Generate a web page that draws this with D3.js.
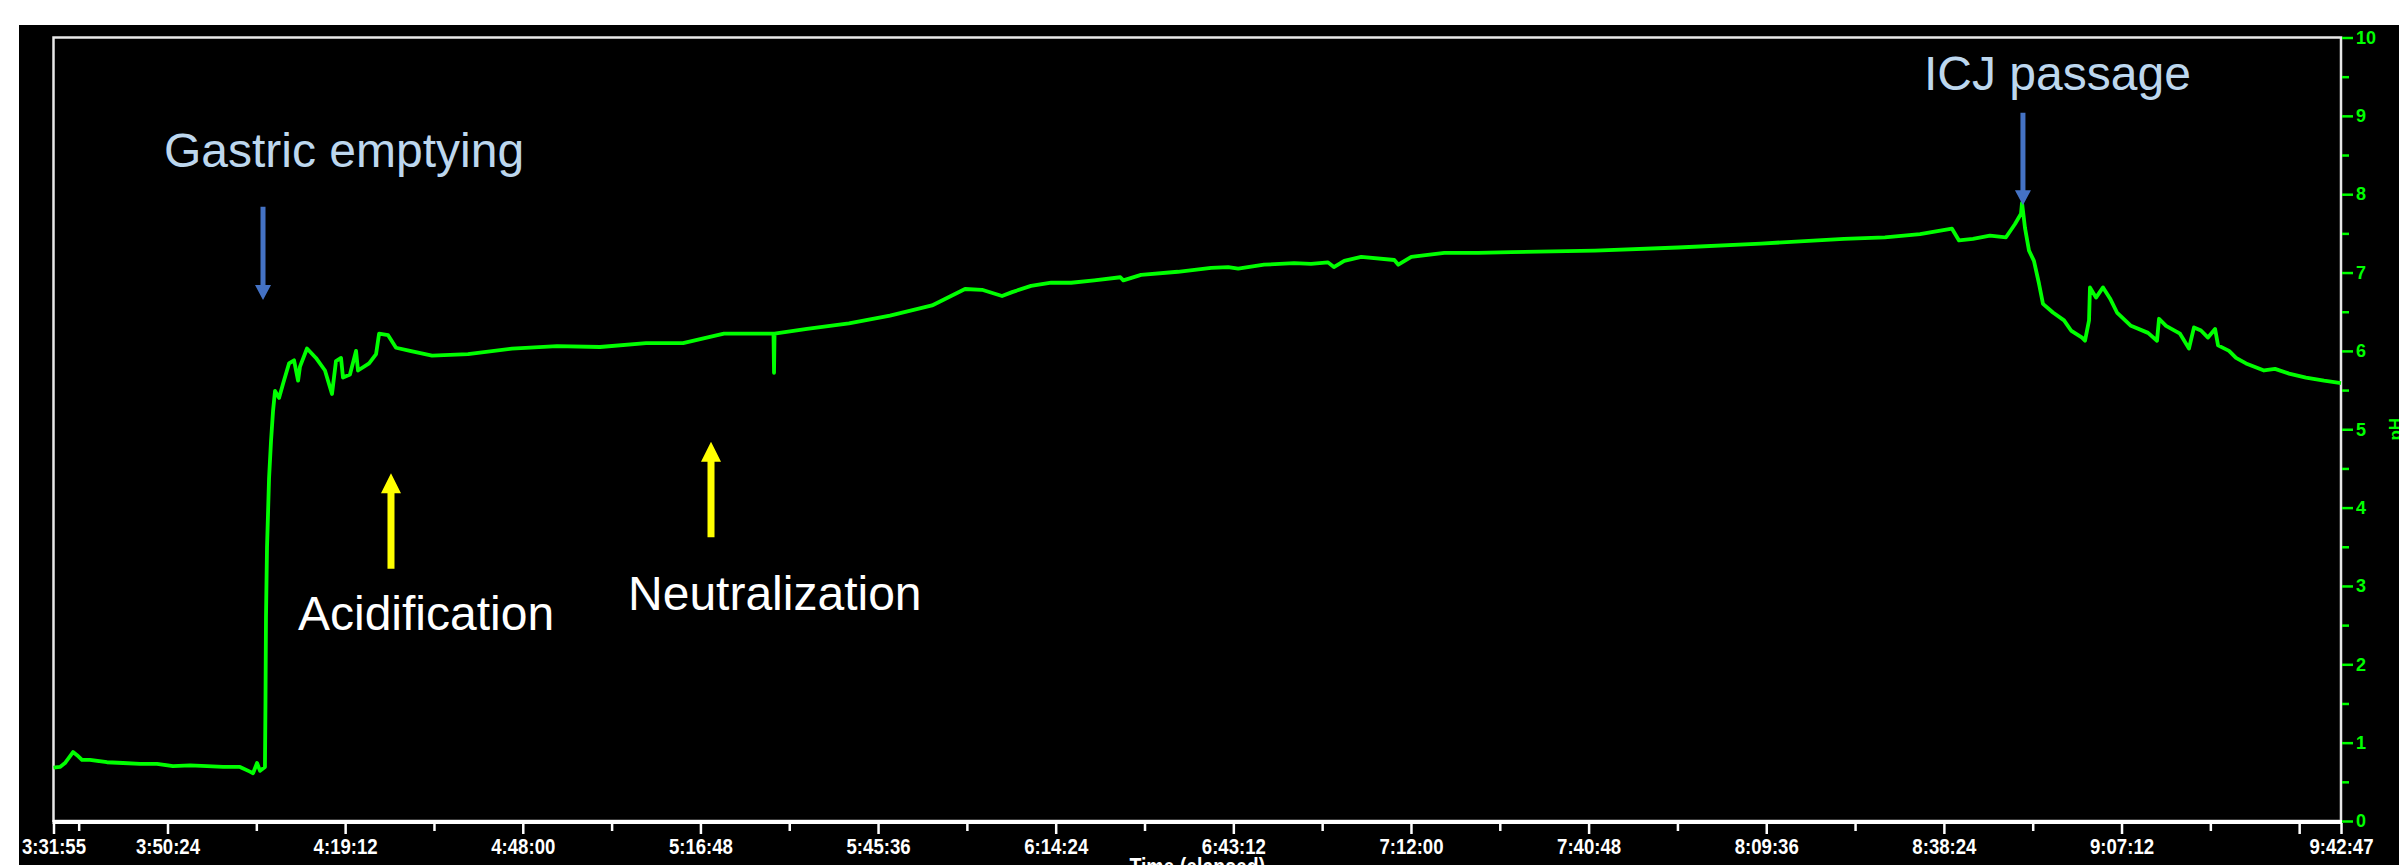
<!DOCTYPE html>
<html>
<head>
<meta charset="utf-8">
<script src="https://cdn.jsdelivr.net/npm/d3@7"></script>
<style>
  html, body { margin: 0; padding: 0; background: #ffffff; }
  svg { display: block; }
</style>
</head>
<body>
<svg id="chart" width="2399" height="865"></svg>
<script>
// ---------------- DATA ----------------
const times = ["3:31:55","3:32:58","3:33:47","3:35:05","3:35:44","3:36:32","3:37:50","3:40:35","3:43:11","3:45:56",
"3:48:42","3:51:17","3:54:03","3:56:48","3:59:24","4:02:09","4:03:46","4:04:16","4:04:55","4:05:24",
"4:06:12","4:06:17","4:06:22","4:06:32","4:06:52","4:07:11","4:07:31","4:07:50","4:08:29","4:09:08",
"4:10:06","4:10:55","4:11:34","4:11:53","4:13:01","4:14:28","4:15:56","4:17:04","4:17:43","4:18:32",
"4:18:51","4:19:59","4:20:58","4:21:17","4:23:05","4:24:13","4:24:42","4:26:10","4:27:27","4:29:43",
"4:33:17","4:39:07","4:46:15","4:53:33","5:00:31","5:07:59","5:13:59","5:20:37","5:27:26","5:28:39",
"5:28:44","5:28:49","5:34:05","5:40:53","5:47:32","5:54:21","5:59:42","6:02:27","6:05:42","6:07:20",
"6:10:24","6:13:40","6:16:55","6:20:39","6:24:53","6:25:22","6:28:14","6:34:12","6:39:36","6:42:22",
"6:43:59","6:48:11","6:53:03","6:55:48","6:58:33","6:59:30","7:01:11","7:03:56","7:09:18","7:09:57",
"7:12:03","7:17:24","7:22:55","7:28:16","7:41:50","7:55:18","8:08:45","8:22:12","8:28:51","8:34:32",
"8:39:43","8:40:51","8:43:07","8:45:52","8:48:28","8:49:56","8:50:54","8:51:04","8:51:33","8:52:12",
"8:53:00","8:53:49","8:54:28","8:56:05","8:57:53","8:59:01","9:00:48","9:01:17","9:01:56","9:02:05",
"9:03:04","9:04:12","9:05:20","9:06:28","9:08:44","9:11:30","9:12:57","9:13:17","9:14:25","9:16:41",
"9:18:08","9:18:57","9:20:05","9:21:13","9:22:22","9:22:51","9:24:38","9:25:46","9:27:23","9:30:18",
"9:32:05","9:34:21","9:37:06","9:40:02","9:42:47"];
const pH = [0.68,0.69,0.74,0.88,0.84,0.78,0.78,0.75,0.74,0.73,
0.73,0.70,0.71,0.70,0.69,0.69,0.63,0.61,0.74,0.64,
0.69,1.50,2.60,3.49,4.38,4.85,5.24,5.49,5.40,5.58,
5.84,5.88,5.62,5.80,6.03,5.91,5.75,5.45,5.87,5.91,
5.66,5.70,6.00,5.75,5.84,5.96,6.22,6.20,6.04,6.00,
5.94,5.96,6.03,6.06,6.05,6.10,6.10,6.22,6.22,6.22,
5.72,6.22,6.28,6.35,6.45,6.58,6.79,6.78,6.70,6.75,
6.83,6.87,6.87,6.90,6.94,6.90,6.97,7.01,7.06,7.07,
7.05,7.10,7.12,7.11,7.13,7.07,7.15,7.20,7.16,7.10,
7.20,7.25,7.25,7.26,7.28,7.32,7.37,7.43,7.45,7.49,
7.56,7.41,7.43,7.47,7.45,7.62,7.75,7.89,7.57,7.28,
7.15,6.86,6.60,6.49,6.39,6.26,6.17,6.13,6.39,6.81,
6.68,6.81,6.67,6.49,6.32,6.23,6.13,6.41,6.32,6.22,
6.03,6.30,6.26,6.17,6.28,6.07,6.00,5.91,5.84,5.75,
5.77,5.71,5.66,5.62,5.59];

const xTickLabels = ["3:31:55","3:50:24","4:19:12","4:48:00","5:16:48","5:45:36","6:14:24","6:43:12",
                     "7:12:00","7:40:48","8:09:36","8:38:24","9:07:12","9:42:47"];
const xUnlabeledTicks = ["9:36:00"];
const xMinorTicks = ["3:36:00","4:04:48","4:33:36","5:02:24","5:31:12","6:00:00","6:28:48","6:57:36",
                     "7:26:24","7:55:12","8:24:00","8:52:48","9:21:36"];
const yTicks = [0,1,2,3,4,5,6,7,8,9,10];
const yMinorTicks = [0.5,1.5,2.5,3.5,4.5,5.5,6.5,7.5,8.5,9.5];
const xTitle = "Time (elapsed)";
const yTitle = "pH";

// annotations: arrow tail/tip and label anchor in data coordinates
const annotTexts  = ["Gastric emptying","ICJ passage","Acidification","Neutralization"];
const annotTextAt = [["3:49:50",8.35],["8:35:11",9.33],["4:11:33",2.44],["5:05:04",2.69]];
const annotArrowTime = ["4:05:53","8:51:13","4:26:38","5:18:31"];
const annotArrowFrom = [7.84, 9.04, 3.22, 3.62];
const annotArrowTo   = [6.65, 7.86, 4.44, 4.84];
const annotTextColor  = ["#bdd7ee","#bdd7ee","#ffffff","#ffffff"];
const annotArrowColor = ["#4472c4","#4472c4","#ffff00","#ffff00"];

// ---------------- CHART ----------------
const parse = d3.timeParse("%H:%M:%S");
const fmt = d3.timeFormat("%-H:%M:%S");
const svg = d3.select("#chart");

const L = 53.5, R = 2341, T = 37.5, B = 821;
const x = d3.scaleTime().domain([parse(xTickLabels[0]), parse(xTickLabels[xTickLabels.length - 1])]).range([L, R]);
const y = d3.scaleLinear().domain([0, 10]).range([B, T]);

const narrow = "'Liberation Sans', Arial, sans-serif";

// black panel
svg.append("rect").attr("x", 19).attr("y", 25).attr("width", 2380).attr("height", 840).attr("fill", "#000");

// plot frame
svg.append("rect").attr("x", L).attr("y", T).attr("width", R - L).attr("height", B - T)
  .attr("fill", "none").attr("stroke", "#e8e8e8").attr("stroke-width", 2.5);

// line
const data = times.map((t, i) => ({ t: parse(t), v: pH[i] }));
svg.append("path").datum(data)
  .attr("fill", "none").attr("stroke", "#00ff00").attr("stroke-width", 3.8)
  .attr("stroke-linejoin", "round")
  .attr("d", d3.line().x(d => x(d.t)).y(d => y(d.v)));

// x axis
const labelSet = new Set(xTickLabels);
const xMajor = xTickLabels.concat(xUnlabeledTicks).map(parse);
const gx = svg.append("g").attr("transform", `translate(0,${B + 2})`)
  .call(d3.axisBottom(x).tickValues(xMajor).tickSize(11).tickPadding(4)
        .tickFormat(d => labelSet.has(fmt(d)) ? fmt(d) : ""));
const gxm = svg.append("g").attr("transform", `translate(0,${B + 2})`)
  .call(d3.axisBottom(x).tickValues(xMinorTicks.map(parse)).tickSize(8).tickFormat(""));
[gx, gxm].forEach(g => {
  g.select(".domain").remove();
  g.selectAll(".tick line").attr("stroke", "#fff").attr("stroke-width", 2.5);
});
gx.selectAll(".tick text").attr("fill", "#fff")
  .style("font-family", narrow).style("font-weight", "bold").style("font-size", "22px")
  .each(function () {
    const w = this.getComputedTextLength();
    if (w > 0) d3.select(this).attr("textLength", w * 0.845).attr("lengthAdjust", "spacingAndGlyphs");
  });
// bottom axis baseline
svg.append("line").attr("x1", L - 1).attr("x2", R + 1).attr("y1", B + 1).attr("y2", B + 1)
  .attr("stroke", "#fff").attr("stroke-width", 4);

// x axis title (cut at bottom edge, as in the reference)
const xt = svg.append("text").attr("x", (L + R) / 2).attr("y", 875)
  .attr("text-anchor", "middle").attr("fill", "#fff")
  .style("font-family", narrow).style("font-weight", "bold").style("font-size", "23px").text(xTitle);
xt.attr("textLength", xt.node().getComputedTextLength() * 0.845).attr("lengthAdjust", "spacingAndGlyphs");

// y axis (right)
const gy = svg.append("g").attr("transform", `translate(${R + 1},0)`)
  .call(d3.axisRight(y).tickValues(yTicks).tickSize(11).tickPadding(3).tickFormat(d3.format("d")));
const gym = svg.append("g").attr("transform", `translate(${R + 1},0)`)
  .call(d3.axisRight(y).tickValues(yMinorTicks).tickSize(7).tickFormat(""));
[gy, gym].forEach(g => {
  g.select(".domain").remove();
  g.selectAll(".tick line").attr("stroke", "#00ff00").attr("stroke-width", 2.5);
});
gy.selectAll(".tick text").attr("fill", "#00ff00")
  .style("font-family", narrow).style("font-weight", "bold").style("font-size", "18px");

// y axis title, partly cut off at the right edge
svg.append("text").attr("transform", `translate(2401,${y(5.0)}) rotate(-90)`)
  .attr("text-anchor", "middle").attr("fill", "#00ff00")
  .style("font-family", narrow).style("font-weight", "bold").style("font-size", "17px").text(yTitle);

// annotations
annotTexts.forEach((txt, i) => {
  const ax = x(parse(annotArrowTime[i]));
  const y0 = y(annotArrowFrom[i]), y1 = y(annotArrowTo[i]);
  const dir = y1 > y0 ? 1 : -1;
  const blue = i < 2;
  const shaftW = blue ? 5 : 7, headW = blue ? 16 : 20, headL = blue ? 15 : 20;
  const hb = y1 - dir * headL;
  const p = d3.path();
  p.moveTo(ax - shaftW / 2, y0);
  p.lineTo(ax + shaftW / 2, y0);
  p.lineTo(ax + shaftW / 2, hb);
  p.lineTo(ax + headW / 2, hb);
  p.lineTo(ax, y1);
  p.lineTo(ax - headW / 2, hb);
  p.lineTo(ax - shaftW / 2, hb);
  p.closePath();
  svg.append("path").attr("d", p.toString()).attr("fill", annotArrowColor[i]);

  svg.append("text")
    .attr("x", x(parse(annotTextAt[i][0]))).attr("y", y(annotTextAt[i][1]))
    .attr("fill", annotTextColor[i])
    .style("font-family", "'Liberation Sans', Arial, sans-serif")
    .style("font-size", "48px").text(txt);
});
</script>
</body>
</html>
